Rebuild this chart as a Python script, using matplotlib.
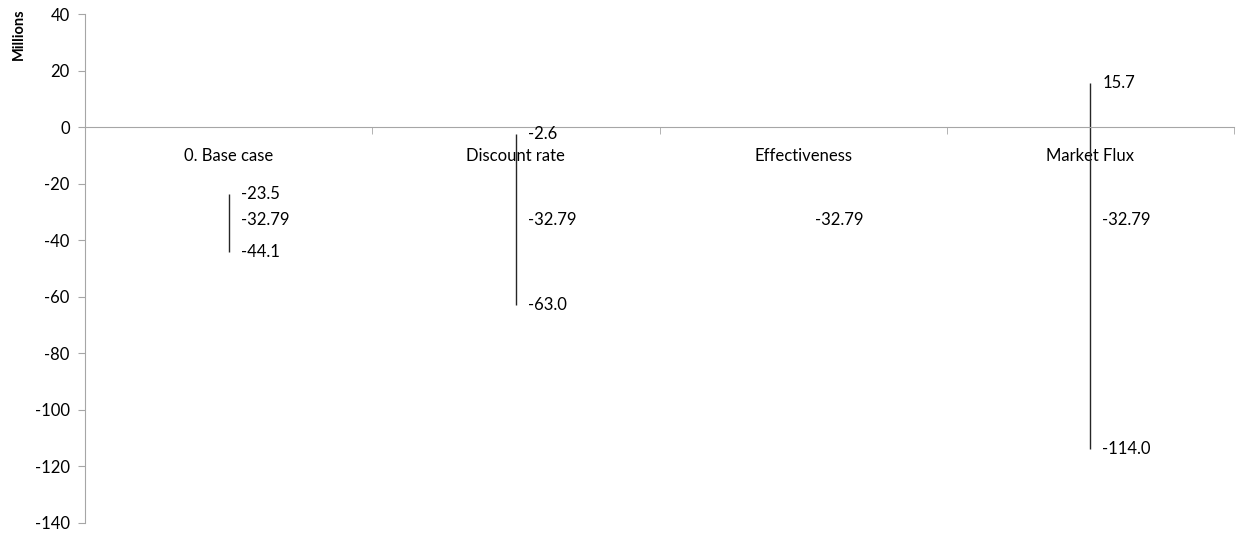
import matplotlib.pyplot as plt

plt.rcParams['font.family'] = ['Lato', 'DejaVu Sans']
plt.rcParams['axes.unicode_minus'] = False

categories = ["0. Base case", "Discount rate", "Effectiveness", "Market Flux"]
high_vals = [-23.5, -2.6, -32.79, 15.7]
low_vals = [-44.1, -63.0, -32.79, -114.0]
mid_vals = [-32.79, -32.79, -32.79, -32.79]

axis_gray = "#a6a6a6"
fs = 12

fig = plt.figure(figsize=(12.39, 5.33), dpi=100)
ax = fig.add_axes([0.0686, 0.0188, 0.9274, 0.9549])

x = list(range(len(categories)))
ax.vlines(x, low_vals, high_vals, color="#262626", linewidth=1)

for i in x:
    ax.annotate(f"{mid_vals[i]:.2f}", (i, mid_vals[i]), xytext=(12, 0),
                textcoords="offset pixels", va="center", ha="left", fontsize=fs)
    if high_vals[i] != mid_vals[i]:
        ax.annotate(f"{high_vals[i]:.1f}", (i, high_vals[i]), xytext=(12, 0),
                    textcoords="offset pixels", va="center", ha="left", fontsize=fs)
    if low_vals[i] != mid_vals[i]:
        ax.annotate(f"{low_vals[i]:.1f}", (i, low_vals[i]), xytext=(12, 0),
                    textcoords="offset pixels", va="center", ha="left", fontsize=fs)

ax.set_xlim(-0.5, len(categories) - 0.5)
ax.set_ylim(-140, 40)
ax.set_yticks(range(-140, 41, 20))

ax.spines["top"].set_visible(False)
ax.spines["right"].set_visible(False)
ax.spines["left"].set_color(axis_gray)
ax.spines["bottom"].set_color(axis_gray)
ax.spines["bottom"].set_position(("data", 0))

ax.set_xticks(x)
ax.set_xticklabels(categories)
ax.tick_params(axis="x", which="major", length=0, pad=15, labelsize=fs)
ax.set_xticks([i + 0.5 for i in x], minor=True)
ax.tick_params(axis="x", which="minor", length=5, color=axis_gray, direction="out")
ax.tick_params(axis="y", length=5, color=axis_gray, labelsize=fs, pad=6)

fig.text(0.015, 0.935, "Millions", rotation=90, fontsize=10.5, fontweight="bold",
         ha="center", va="center")

fig.savefig("out.png", dpi=100)
